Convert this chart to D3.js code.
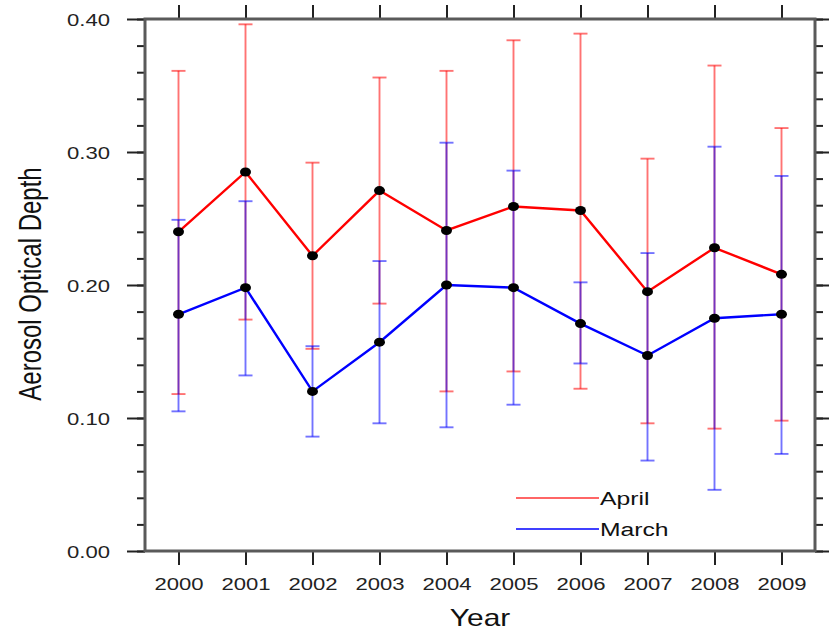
<!DOCTYPE html>
<html>
<head>
<meta charset="utf-8">
<script src="https://cdn.jsdelivr.net/npm/d3@7"></script>
<style>
  body { margin: 0; background: #fff; }
  svg { display: block; font-family: "Liberation Sans", Arial, sans-serif; }
</style>
</head>
<body>
<div id="chart"></div>
<script>
// AOD by year, April vs March, with error bars
const years = [2000, 2001, 2002, 2003, 2004, 2005, 2006, 2007, 2008, 2009];

const aprilMean = [0.240, 0.285, 0.222, 0.271, 0.241, 0.259, 0.256, 0.195, 0.228, 0.208];
const aprilHigh = [0.361, 0.396, 0.292, 0.356, 0.361, 0.384, 0.389, 0.295, 0.365, 0.318];
const aprilLow  = [0.118, 0.174, 0.152, 0.186, 0.120, 0.135, 0.122, 0.096, 0.092, 0.098];

const marchMean = [0.178, 0.198, 0.120, 0.157, 0.200, 0.198, 0.171, 0.147, 0.175, 0.178];
const marchHigh = [0.249, 0.263, 0.154, 0.218, 0.307, 0.286, 0.202, 0.224, 0.304, 0.282];
const marchLow  = [0.105, 0.132, 0.086, 0.096, 0.093, 0.110, 0.141, 0.068, 0.046, 0.073];

const yMajor = [0.0, 0.1, 0.2, 0.3, 0.4];
const yMinor = d3.range(0, 0.401, 0.02);

const svgWidth = 829;
const svgHeight = 630;
const plotLeft = 145, plotRight = 815, plotTop = 19, plotBottom = 551;
const sx = 1.3; // reference text is stretched horizontally

const x = d3.scaleLinear().domain([1999.5, 2009.5]).range([plotLeft, plotRight]);
const y = d3.scaleLinear().domain([0, 0.4]).range([plotBottom, plotTop]);

const svg = d3.select("#chart").append("svg")
    .attr("width", svgWidth)
    .attr("height", svgHeight);

// series: draw error bars first, then lines and dots
const series = [
    { name: "April", mean: aprilMean, hi: aprilHigh, lo: aprilLow, color: "#ff0000" },
    { name: "March", mean: marchMean, hi: marchHigh, lo: marchLow, color: "#0000ff" }
];

const capW = 7;
series.forEach(s => {
    const g = svg.append("g").attr("stroke", s.color).attr("stroke-opacity", 0.55).attr("stroke-width", 1.9);
    years.forEach((yr, i) => {
        g.append("line").attr("x1", x(yr)).attr("x2", x(yr)).attr("y1", y(s.hi[i])).attr("y2", y(s.lo[i]));
        g.append("line").attr("x1", x(yr) - capW).attr("x2", x(yr) + capW).attr("y1", y(s.hi[i])).attr("y2", y(s.hi[i]));
        g.append("line").attr("x1", x(yr) - capW).attr("x2", x(yr) + capW).attr("y1", y(s.lo[i])).attr("y2", y(s.lo[i]));
    });
});

const line = d3.line().x(d => x(d[0])).y(d => y(d[1]));
series.forEach(s => {
    svg.append("path")
        .datum(years.map((yr, i) => [yr, s.mean[i]]))
        .attr("fill", "none")
        .attr("stroke", s.color)
        .attr("stroke-width", 2.4)
        .attr("d", line);
});
series.forEach(s => {
    svg.append("g").selectAll("ellipse")
        .data(years.map((yr, i) => [yr, s.mean[i]]))
        .enter()
        .append("ellipse")
        .attr("cx", d => x(d[0]))
        .attr("cy", d => y(d[1]))
        .attr("rx", 5.5)
        .attr("ry", 4.5)
        .attr("fill", "#000");
});

// axes
function styleAxis(g) {
    g.select(".domain").remove();
    g.selectAll(".tick line").attr("stroke", "#222").attr("stroke-width", 2);
}

svg.append("g").attr("transform", `translate(${plotLeft},0)`)
    .call(d3.axisLeft(y).tickValues(yMinor).tickSize(8).tickFormat(""))
    .call(styleAxis);
svg.append("g").attr("transform", `translate(${plotLeft},0)`)
    .call(d3.axisLeft(y).tickValues(yMajor).tickSize(18).tickFormat(d3.format(".2f")))
    .call(styleAxis)
    .call(g => g.selectAll("text")
        .attr("x", null).attr("dy", null)
        .attr("text-anchor", "end")
        .attr("fill", "#222")
        .style("font-size", "17px")
        .attr("transform", `translate(-35,6) scale(${sx},1)`));

svg.append("g").attr("transform", `translate(${plotRight},0)`)
    .call(d3.axisRight(y).tickValues(yMinor).tickSize(8).tickFormat(""))
    .call(styleAxis);
svg.append("g").attr("transform", `translate(${plotRight},0)`)
    .call(d3.axisRight(y).tickValues(yMajor).tickSize(16).tickFormat(""))
    .call(styleAxis);

svg.append("g").attr("transform", `translate(0,${plotTop})`)
    .call(d3.axisTop(x).tickValues(years).tickSize(14).tickFormat(""))
    .call(styleAxis);
svg.append("g").attr("transform", `translate(0,${plotBottom})`)
    .call(d3.axisBottom(x).tickValues(years).tickSize(14).tickFormat(d3.format("d")))
    .call(styleAxis)
    .call(g => g.selectAll("text")
        .attr("y", null).attr("dy", null)
        .attr("text-anchor", "middle")
        .attr("fill", "#222")
        .style("font-size", "17px")
        .attr("transform", `translate(0,39) scale(${sx},1)`));

// frame
svg.append("rect")
    .attr("x", plotLeft).attr("y", plotTop)
    .attr("width", plotRight - plotLeft).attr("height", plotBottom - plotTop)
    .attr("fill", "none")
    .attr("stroke", "#5a5a5a")
    .attr("stroke-width", 3);

// axis titles
svg.append("text")
    .attr("transform", `translate(${(plotLeft + plotRight) / 2},626) scale(${sx},1)`)
    .attr("text-anchor", "middle")
    .attr("fill", "#111")
    .style("font-size", "23px")
    .text("Year");

svg.append("text")
    .attr("transform", `translate(41,284) scale(${sx},1) rotate(-90)`)
    .attr("text-anchor", "middle")
    .attr("fill", "#111")
    .style("font-size", "24px")
    .text("Aerosol Optical Depth");

// legend
const legend = svg.append("g");
series.forEach((s, i) => {
    const ly = 498 + i * 31;
    legend.append("line")
        .attr("x1", 516).attr("x2", 599)
        .attr("y1", ly).attr("y2", ly)
        .attr("stroke", s.color)
        .attr("stroke-opacity", i === 0 ? 0.6 : 0.75)
        .attr("stroke-width", 2);
    legend.append("text")
        .attr("transform", `translate(600,${ly + 7}) scale(${sx},1)`)
        .attr("fill", "#111")
        .style("font-size", "19px")
        .text(s.name);
});
</script>
</body>
</html>
